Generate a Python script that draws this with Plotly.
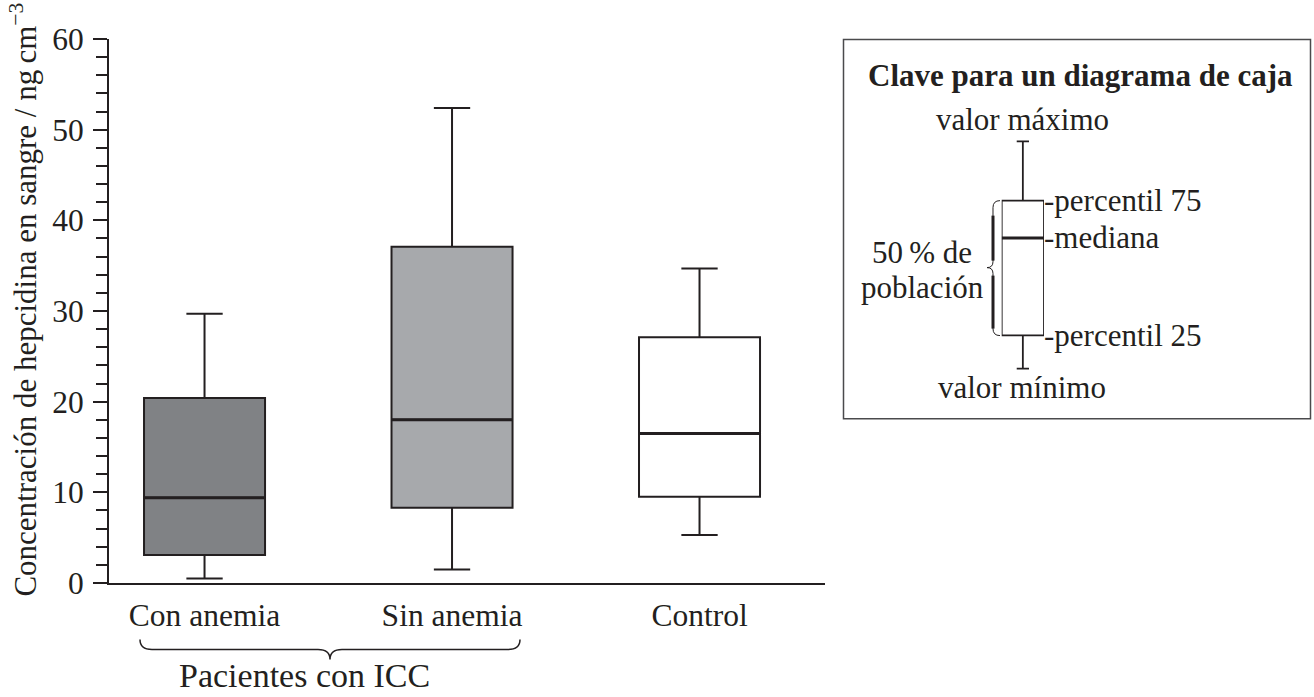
import plotly.graph_objects as go

# ---------------- data ----------------
categories = ["Con anemia", "Sin anemia", "Control"]
mins = [0.5, 1.5, 5.3]
q1s = [3.1, 8.3, 9.5]
medians = [9.4, 18.0, 16.5]
q3s = [20.4, 37.1, 27.1]
maxs = [29.7, 52.4, 34.7]
fills = ["#808285", "#a7a9ac", "#ffffff"]

y_ticks = [0, 10, 20, 30, 40, 50, 60]

# key (illustrative box, relative units 0-100)
key_min, key_q1, key_med, key_q3, key_max = 0.0, 14.6, 57.5, 73.9, 100.0
key_labels = ["-percentil 75", "-mediana", "-percentil 25"]

INK = "#231f20"
FONT = "Liberation Serif"
W, H = 1314, 697
ML, MR, MT, MB = 109, 3, 39.3, 113.5
PW = W - ML - MR
PH = H - MT - MB


def px(xp):
    return (xp - ML) / PW


def py(yp):
    return (H - MB - yp) / PH


BOX_W = 0.489

fig = go.Figure()
for i, c in enumerate(categories):
    fig.add_trace(go.Box(
        x=[c], q1=[q1s[i]], median=[medians[i]], q3=[q3s[i]],
        lowerfence=[mins[i]], upperfence=[maxs[i]],
        width=BOX_W, whiskerwidth=0.3, fillcolor=fills[i],
        line=dict(color=INK, width=2), boxpoints=False,
        hoverinfo="skip", showlegend=False, xaxis="x", yaxis="y"))

# key box
fig.add_trace(go.Box(
    x=[0], q1=[key_q1], median=[key_med], q3=[key_q3],
    lowerfence=[key_min], upperfence=[key_max],
    width=1, whiskerwidth=0.29, fillcolor="#ffffff",
    line=dict(color=INK, width=1.8), boxpoints=False,
    hoverinfo="skip", showlegend=False, xaxis="x2", yaxis="y2"))

shapes = []
# thicker medians
for i, m in enumerate(medians):
    shapes.append(dict(type="line", xref="x", yref="y", x0=i - BOX_W / 2, x1=i + BOX_W / 2,
                       y0=m, y1=m, line=dict(color=INK, width=3)))
shapes.append(dict(type="line", xref="x2", yref="y2", x0=-0.5, x1=0.5, y0=key_med, y1=key_med,
                   line=dict(color=INK, width=3)))

# key border
shapes.append(dict(type="rect", xref="paper", yref="paper", x0=px(843.5), x1=px(1310.5),
                   y0=py(419.3), y1=py(39.8), line=dict(color="#4a4a4c", width=1.5)))


def path(points):
    s = ""
    for cmd, pts in points:
        s += cmd + " " + " ".join(f"{px(a):.5f},{py(b):.5f}" for a, b in pts) + " "
    return s.strip()


# brace under x labels
shapes.append(dict(type="path", xref="paper", yref="paper", line=dict(color=INK, width=1.5),
                   path=path([("M", [(140, 640)]), ("Q", [(140, 650), (152, 650)]), ("L", [(318, 650)]),
                              ("Q", [(330, 650), (330, 660)]), ("Q", [(330, 650), (342, 650)]),
                              ("L", [(508, 650)]), ("Q", [(520, 650), (520, 640)])])))
# brace in key
shapes.append(dict(type="path", xref="paper", yref="paper", line=dict(color=INK, width=1),
                   path=path([("M", [(1000, 201)]), ("Q", [(993, 201), (993, 208)]), ("L", [(993, 262)]),
                              ("Q", [(993, 268), (987, 268)]), ("Q", [(993, 268), (993, 274)]),
                              ("L", [(993, 329)]), ("Q", [(993, 336), (1000, 336)])])))
for a, b in [(216, 261), (276, 329)]:
    shapes.append(dict(type="line", xref="paper", yref="paper", x0=px(993), x1=px(993),
                       y0=py(a), y1=py(b), line=dict(color=INK, width=3)))

tf = dict(family=FONT, size=31, color=INK)
tick_f = dict(family=FONT, size=31.5, color=INK)
annotations = [
    dict(text="Concentración de hepcidina en sangre / ng\u2009cm<sup>−3</sup>", textangle=-90,
         xref="paper", yref="paper", x=px(24), y=py(300), xanchor="center", yanchor="middle",
         showarrow=False, font=tf),
    dict(text="Pacientes con ICC", xref="paper", yref="paper", x=px(304), y=py(676),
         xanchor="center", yanchor="middle", showarrow=False, font=dict(family=FONT, size=34, color=INK)),
    dict(text="<b>Clave para un diagrama de caja</b>", xref="paper", yref="paper", x=px(1080), y=py(76),
         xanchor="center", yanchor="middle", showarrow=False, font=tf),
    dict(text="valor máximo", xref="paper", yref="paper", x=px(1022), y=py(120),
         xanchor="center", yanchor="middle", showarrow=False, font=tf),
    dict(text="valor mínimo", xref="paper", yref="paper", x=px(1022), y=py(388),
         xanchor="center", yanchor="middle", showarrow=False, font=tf),
    dict(text="50\u2009% de", xref="paper", yref="paper", x=px(922), y=py(253),
         xanchor="center", yanchor="middle", showarrow=False, font=tf),
    dict(text="población", xref="paper", yref="paper", x=px(922), y=py(288),
         xanchor="center", yanchor="middle", showarrow=False, font=tf),
]
for lab, v in zip(key_labels, [key_q3, key_med, key_q1]):
    annotations.append(dict(text=lab, xref="x2", yref="y2", x=0.5, y=v, xanchor="left",
                            yanchor="middle", xshift=-2, yshift=0, showarrow=False, font=tf))

# key axis geometry
k_lo, k_hi = -5, 105
k_pxu = (369 - 141.7) / 100
fig.update_layout(
    width=W, height=H,
    margin=dict(l=ML, r=MR, t=MT, b=MB, pad=0),
    paper_bgcolor="white", plot_bgcolor="white",
    boxmode="overlay",
    font=tf,
    xaxis=dict(domain=[0, px(825)], type="category", categoryorder="array", categoryarray=categories,
               range=[-0.386, 2.507], showline=True, linecolor=INK, linewidth=2, ticks="",
               showgrid=False, zeroline=False, tickfont=tick_f, ticklabelstandoff=3),
    yaxis=dict(domain=[0, 1], range=[0, 60], tickvals=y_ticks, showline=True, linecolor=INK, linewidth=2,
               ticks="outside", ticklen=14, tickwidth=1.5, tickcolor=INK, showgrid=False, zeroline=False,
               tickfont=tick_f, ticklabelstandoff=3,
               minor=dict(dtick=2, ticks="outside", ticklen=11, tickwidth=1.5, tickcolor=INK)),
    xaxis2=dict(domain=[px(1001.7), px(1044)], range=[-0.5, 0.5], visible=False, anchor="y2"),
    yaxis2=dict(domain=[py(369 + 5 * k_pxu), py(141.7 - 5 * k_pxu)], range=[k_lo, k_hi], visible=False,
                anchor="x2"),
    shapes=shapes, annotations=annotations,
)

fig.write_html("out.html", config={"displayModeBar": False},
               post_script="document.body.style.margin='0';")
